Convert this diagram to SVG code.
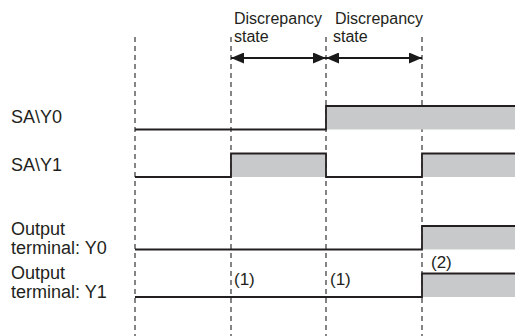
<svg xmlns="http://www.w3.org/2000/svg" width="515" height="336" viewBox="0 0 515 336">
<defs>
<marker id="ah" viewBox="0 0 13 11" refX="13" refY="5.5" markerWidth="13" markerHeight="11" markerUnits="userSpaceOnUse" orient="auto-start-reverse">
<path d="M0,0 L13,5.5 L0,11 Z" fill="#1a1a1a"/>
</marker>
<style>
text{font-family:"Liberation Sans",Arial,sans-serif;fill:#231f20}
.lbl{font-size:18px}
.top{font-size:16px}
.num{font-size:17px}
.dash{stroke:#231f20;stroke-width:1.1;stroke-dasharray:5 4;fill:none}
.wave{stroke:#231f20;stroke-width:1.8;fill:none}
.fill{fill:#c8c9ca;stroke:none}
.arr{stroke:#1a1a1a;stroke-width:1.8;fill:none}
</style>
</defs>
<rect width="515" height="336" fill="#fff"/>
<g id="gridlines">
<line class="dash" x1="135" y1="37" x2="135" y2="336"/>
<line class="dash" x1="231" y1="37" x2="231" y2="336"/>
<line class="dash" x1="326" y1="37" x2="326" y2="336"/>
<line class="dash" x1="422" y1="37" x2="422" y2="336"/>
</g>
<g id="header">
<text class="top" x="234" y="24">Discrepancy</text>
<text class="top" x="234" y="42">state</text>
<text class="top" x="335" y="24">Discrepancy</text>
<text class="top" x="333" y="42">state</text>
</g>
<g id="connectors">
<line class="arr" x1="231" y1="58" x2="326" y2="58" marker-start="url(#ah)" marker-end="url(#ah)"/>
<line class="arr" x1="326" y1="58" x2="422" y2="58" marker-start="url(#ah)" marker-end="url(#ah)"/>
</g>
<g id="sa-y0">
<text class="lbl" x="11" y="123">SA\Y0</text>
<rect class="fill" x="326" y="106" width="189" height="23.5"/>
<path class="wave" d="M135,129.5 H326 V106 H515"/>
</g>
<g id="sa-y1">
<text class="lbl" x="11" y="171">SA\Y1</text>
<rect class="fill" x="231" y="153.5" width="95" height="23.5"/>
<rect class="fill" x="422" y="153.5" width="93" height="23.5"/>
<path class="wave" d="M135,177 H231 V153.5 H326 V177 H422 V153.5 H515"/>
</g>
<g id="out-y0">
<text class="lbl" x="11" y="235">Output</text>
<text class="lbl" x="11" y="254">terminal: Y0</text>
<rect class="fill" x="422" y="226" width="93" height="23.5"/>
<path class="wave" d="M135,249.5 H422 V226 H515"/>
</g>
<g id="out-y1">
<text class="lbl" x="11" y="279">Output</text>
<text class="lbl" x="11" y="298">terminal: Y1</text>
<rect class="fill" x="422" y="273.5" width="93" height="23.5"/>
<path class="wave" d="M135,297 H422 V273.5 H515"/>
</g>
<g id="notes">
<text class="num" x="234" y="285">(1)</text>
<text class="num" x="330" y="285">(1)</text>
<text class="num" x="431" y="268">(2)</text>
</g>
</svg>
